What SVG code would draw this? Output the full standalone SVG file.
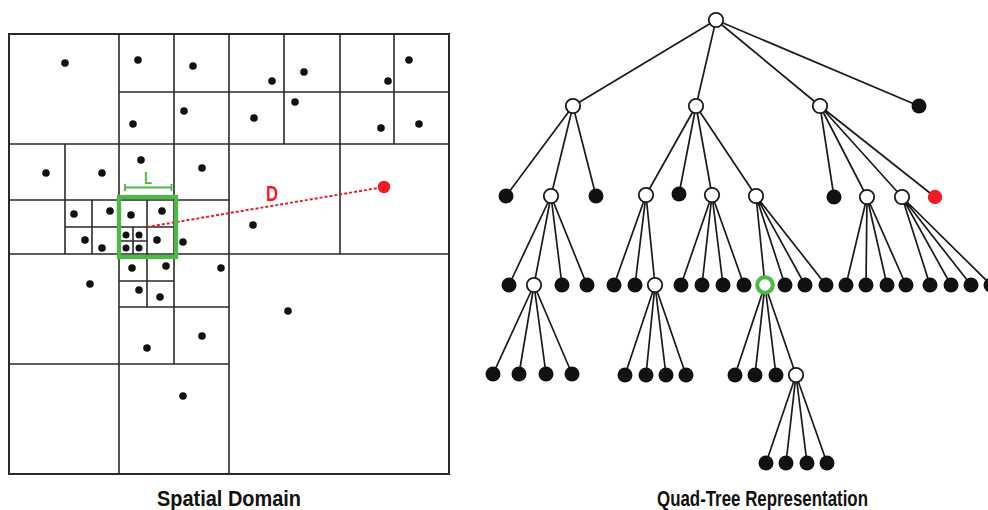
<svg xmlns="http://www.w3.org/2000/svg" width="988" height="510" viewBox="0 0 988 510">
  <style>
    .frame { fill: none; stroke: #2a2a2a; stroke-width: 2; }
    .grid { stroke: #2a2a2a; stroke-width: 1.6; fill: none; }
    .pt { fill: #111; }
    .edge { stroke: #1a1a1a; stroke-width: 1.7; fill: none; }
    .hollow { fill: #fff; stroke: #1a1a1a; stroke-width: 1.8; }
    .leaf { fill: #111; }
    .hit { fill: #ee1c24; }
    .found { fill: #fff; stroke: #4cb848; stroke-width: 4; }
    .caption { font-family: "Liberation Sans", "DejaVu Sans", sans-serif; font-weight: bold; font-size: 22px; fill: #111; }
  </style>

  <!-- Spatial domain: recursive quadrant subdivision -->
  <g id="spatial-domain">
    <rect class="frame" x="9" y="34" width="440" height="440"/>
    <path class="grid" d="
      M229 34 V474 M9 254 H449
      M119 34 V474 M9 144 H449 M9 364 H229
      M174 34 V364 M119 92 H449
      M284 34 V144 M394 34 V144 M340 34 V254
      M65 144 V254 M9 200 H229
      M92 200 V254 M65 227 H174
      M147 200 V254 M133 227 V254 M119 241 H147
      M119 307 H229 M147 254 V307 M119 281 H174"/>

    <g id="points">
      <circle class="pt" cx="65" cy="63" r="3.8"/>
      <circle class="pt" cx="138" cy="60" r="3.8"/>
      <circle class="pt" cx="193" cy="66" r="3.8"/>
      <circle class="pt" cx="184" cy="111" r="3.8"/>
      <circle class="pt" cx="133" cy="124" r="3.8"/>
      <circle class="pt" cx="272" cy="81" r="3.8"/>
      <circle class="pt" cx="304" cy="72" r="3.8"/>
      <circle class="pt" cx="254" cy="118" r="3.8"/>
      <circle class="pt" cx="295" cy="102" r="3.8"/>
      <circle class="pt" cx="388" cy="81" r="3.8"/>
      <circle class="pt" cx="409" cy="60" r="3.8"/>
      <circle class="pt" cx="381" cy="128" r="3.8"/>
      <circle class="pt" cx="419" cy="124" r="3.8"/>
      <circle class="pt" cx="46" cy="173" r="3.8"/>
      <circle class="pt" cx="102" cy="173" r="3.8"/>
      <circle class="pt" cx="141" cy="160" r="3.8"/>
      <circle class="pt" cx="202" cy="168" r="3.8"/>
      <circle class="pt" cx="74" cy="214" r="3.8"/>
      <circle class="pt" cx="110" cy="211" r="3.8"/>
      <circle class="pt" cx="85" cy="240" r="3.8"/>
      <circle class="pt" cx="102" cy="248" r="3.8"/>
      <circle class="pt" cx="131" cy="215" r="3.8"/>
      <circle class="pt" cx="162" cy="211" r="3.8"/>
      <circle class="pt" cx="126" cy="235" r="3.5"/>
      <circle class="pt" cx="139" cy="235" r="3.5"/>
      <circle class="pt" cx="126" cy="248" r="3.5"/>
      <circle class="pt" cx="139" cy="248" r="3.5"/>
      <circle class="pt" cx="157" cy="240" r="3.8"/>
      <circle class="pt" cx="183" cy="242" r="3.8"/>
      <circle class="pt" cx="253" cy="225" r="3.8"/>
      <circle class="pt" cx="288" cy="311" r="3.8"/>
      <circle class="pt" cx="90" cy="284" r="3.8"/>
      <circle class="pt" cx="132" cy="268" r="3.8"/>
      <circle class="pt" cx="166" cy="266" r="3.8"/>
      <circle class="pt" cx="139" cy="290" r="3.8"/>
      <circle class="pt" cx="160" cy="297" r="3.8"/>
      <circle class="pt" cx="221" cy="268" r="3.8"/>
      <circle class="pt" cx="147" cy="348" r="3.8"/>
      <circle class="pt" cx="202" cy="336" r="3.8"/>
      <circle class="pt" cx="183" cy="396" r="3.8"/>
    </g>

    <!-- distance D from the cell to the far point -->
    <line x1="147" y1="227" x2="384" y2="187" stroke="#ee1c24" stroke-width="2" stroke-dasharray="3 2"/>
    <circle class="hit" cx="384" cy="187" r="6.2"/>
    <text x="266" y="200.5" font-family="Liberation Sans, sans-serif" font-weight="bold" font-size="22" fill="#ee1c24" textLength="12" lengthAdjust="spacingAndGlyphs">D</text>

    <!-- cell of size L -->
    <rect x="119" y="197" width="57" height="60" fill="none" stroke="#4cb848" stroke-width="4.3"/>
    <path d="M125 187.5 H171.5 M125 184 V191 M171.5 184 V191" stroke="#4cb848" stroke-width="1.8" fill="none"/>
    <text x="144" y="183.5" font-family="Liberation Sans, sans-serif" font-weight="bold" font-size="17" fill="#4cb848" textLength="8" lengthAdjust="spacingAndGlyphs">L</text>

    <text class="caption" x="157" y="506" textLength="144" lengthAdjust="spacingAndGlyphs">Spatial Domain</text>
  </g>

  <!-- Quad-tree connectors -->
  <g id="connectors">
    <path class="edge" d="
      M716 20 L573 106 M716 20 L696 106 M716 20 L820 106 M716 20 L919 106
      M573 106 L506 196 M573 106 L551 196 M573 106 L596 196
      M696 106 L646 195 M696 106 L679 194 M696 106 L712 195 M696 106 L756 196
      M820 106 L834 197 M820 106 L867 197 M820 106 L902 197 M820 106 L935 197
      M551 196 L509 285 M551 196 L534 285 M551 196 L562 285 M551 196 L587 285
      M646 195 L614 285 M646 195 L635 285 M646 195 L655 285
      M712 195 L681 285 M712 195 L702 285 M712 195 L723 285 M712 195 L744 285
      M756 196 L765 285 M756 196 L785 285 M756 196 L805 285 M756 196 L826 285
      M867 197 L846 285 M867 197 L866 285 M867 197 L887 285 M867 197 L906 285
      M902 197 L930 285 M902 197 L951 285 M902 197 L971 285 M902 197 L991 285
      M534 285 L493 374 M534 285 L519 374 M534 285 L546 374 M534 285 L572 374
      M655 285 L625 375 M655 285 L646 375 M655 285 L666 375 M655 285 L686 375
      M765 285 L735 375 M765 285 L755 375 M765 285 L776 375 M765 285 L796 375
      M796 375 L766 463 M796 375 L786 463 M796 375 L807 463 M796 375 L827 463"/>
  </g>

  <!-- Quad-tree nodes -->
  <g id="quad-tree">
    <g id="root"><circle class="hollow" cx="716" cy="20" r="7.2"/></g>

    <g id="n-a"><circle class="hollow" cx="573" cy="106" r="7.2"/></g>
    <g id="n-b"><circle class="hollow" cx="696" cy="106" r="7.2"/></g>
    <g id="n-c"><circle class="hollow" cx="820" cy="106" r="7.2"/></g>
    <g id="n-d"><circle class="leaf" cx="919" cy="106" r="7.5"/></g>

    <g id="n-a1"><circle class="leaf" cx="506" cy="196" r="7.5"/></g>
    <g id="n-a2"><circle class="hollow" cx="551" cy="196" r="7.2"/></g>
    <g id="n-a3"><circle class="leaf" cx="596" cy="196" r="7.5"/></g>
    <g id="n-b1"><circle class="hollow" cx="646" cy="195" r="7.2"/></g>
    <g id="n-b2"><circle class="leaf" cx="679" cy="194" r="7.5"/></g>
    <g id="n-b3"><circle class="hollow" cx="712" cy="195" r="7.2"/></g>
    <g id="n-b4"><circle class="hollow" cx="756" cy="196" r="7.2"/></g>
    <g id="n-c1"><circle class="leaf" cx="834" cy="197" r="7.5"/></g>
    <g id="n-c2"><circle class="hollow" cx="867" cy="197" r="7.2"/></g>
    <g id="n-c3"><circle class="hollow" cx="902" cy="197" r="7.2"/></g>
    <g id="n-c4"><circle class="hit" cx="935" cy="197" r="7.2"/></g>

    <g id="n-a2-1"><circle class="leaf" cx="509" cy="285" r="7.5"/></g>
    <g id="n-a2-2"><circle class="hollow" cx="534" cy="285" r="7.2"/></g>
    <g id="n-a2-3"><circle class="leaf" cx="562" cy="285" r="7.5"/></g>
    <g id="n-a2-4"><circle class="leaf" cx="587" cy="285" r="7.5"/></g>
    <g id="n-b1-1"><circle class="leaf" cx="614" cy="285" r="7.5"/></g>
    <g id="n-b1-2"><circle class="leaf" cx="635" cy="285" r="7.5"/></g>
    <g id="n-b1-3"><circle class="hollow" cx="655" cy="285" r="7.2"/></g>
    <g id="n-b3-1"><circle class="leaf" cx="681" cy="285" r="7.5"/></g>
    <g id="n-b3-2"><circle class="leaf" cx="702" cy="285" r="7.5"/></g>
    <g id="n-b3-3"><circle class="leaf" cx="723" cy="285" r="7.5"/></g>
    <g id="n-b3-4"><circle class="leaf" cx="744" cy="285" r="7.5"/></g>
    <g id="n-b4-1"><circle class="found" cx="765" cy="285" r="7.8"/></g>
    <g id="n-b4-2"><circle class="leaf" cx="785" cy="285" r="7.5"/></g>
    <g id="n-b4-3"><circle class="leaf" cx="805" cy="285" r="7.5"/></g>
    <g id="n-b4-4"><circle class="leaf" cx="826" cy="285" r="7.5"/></g>
    <g id="n-c2-1"><circle class="leaf" cx="846" cy="285" r="7.5"/></g>
    <g id="n-c2-2"><circle class="leaf" cx="866" cy="285" r="7.5"/></g>
    <g id="n-c2-3"><circle class="leaf" cx="887" cy="285" r="7.5"/></g>
    <g id="n-c2-4"><circle class="leaf" cx="906" cy="285" r="7.5"/></g>
    <g id="n-c3-1"><circle class="leaf" cx="930" cy="285" r="7.5"/></g>
    <g id="n-c3-2"><circle class="leaf" cx="951" cy="285" r="7.5"/></g>
    <g id="n-c3-3"><circle class="leaf" cx="971" cy="285" r="7.5"/></g>
    <g id="n-c3-4"><circle class="leaf" cx="991" cy="285" r="7.5"/></g>

    <g id="n-a22-1"><circle class="leaf" cx="493" cy="374" r="7.5"/></g>
    <g id="n-a22-2"><circle class="leaf" cx="519" cy="374" r="7.5"/></g>
    <g id="n-a22-3"><circle class="leaf" cx="546" cy="374" r="7.5"/></g>
    <g id="n-a22-4"><circle class="leaf" cx="572" cy="374" r="7.5"/></g>
    <g id="n-b13-1"><circle class="leaf" cx="625" cy="375" r="7.5"/></g>
    <g id="n-b13-2"><circle class="leaf" cx="646" cy="375" r="7.5"/></g>
    <g id="n-b13-3"><circle class="leaf" cx="666" cy="375" r="7.5"/></g>
    <g id="n-b13-4"><circle class="leaf" cx="686" cy="375" r="7.5"/></g>
    <g id="n-b41-1"><circle class="leaf" cx="735" cy="375" r="7.5"/></g>
    <g id="n-b41-2"><circle class="leaf" cx="755" cy="375" r="7.5"/></g>
    <g id="n-b41-3"><circle class="leaf" cx="776" cy="375" r="7.5"/></g>
    <g id="n-b41-4"><circle class="hollow" cx="796" cy="375" r="7.2"/></g>

    <g id="n-b414-1"><circle class="leaf" cx="766" cy="463" r="7.5"/></g>
    <g id="n-b414-2"><circle class="leaf" cx="786" cy="463" r="7.5"/></g>
    <g id="n-b414-3"><circle class="leaf" cx="807" cy="463" r="7.5"/></g>
    <g id="n-b414-4"><circle class="leaf" cx="827" cy="463" r="7.5"/></g>

    <text class="caption" x="657" y="506" textLength="211" lengthAdjust="spacingAndGlyphs">Quad-Tree Representation</text>
  </g>
</svg>
